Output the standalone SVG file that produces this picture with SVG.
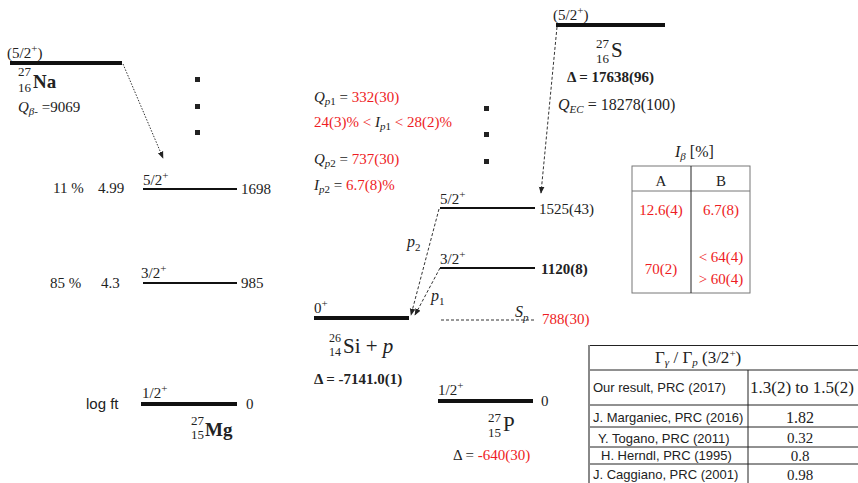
<svg xmlns="http://www.w3.org/2000/svg" width="858" height="483" viewBox="0 0 858 483">
<defs>
<style>
text{font-family:"Liberation Serif","Times New Roman",serif;font-size:15px;fill:#222}
.red{fill:#ee1c24}
.b{font-weight:bold}
.i{font-style:italic}
.s{font-size:11px}
.sans{font-family:"Liberation Sans",Arial,sans-serif;font-size:13px}
.val{font-size:16px}
.lvl{stroke:#111;stroke-width:2}
.thick{stroke:#111;stroke-width:4}
.dash{stroke:#333;stroke-width:1;stroke-dasharray:3,2;fill:none}
.dot{stroke:#333;stroke-width:1;stroke-dasharray:1.5,1.5;fill:none}
.grid{stroke:#222;stroke-width:1;fill:none}
</style>
<marker id="ah" viewBox="0 0 10 10" refX="9" refY="5" markerWidth="7" markerHeight="7" orient="auto" markerUnits="userSpaceOnUse">
<path d="M0,1 L10,5 L0,9 z" fill="#222"/>
</marker>
</defs>
<rect width="858" height="483" fill="#fff"/>

<g id="connectors">
<path class="dot" d="M123,64 L163,158" marker-end="url(#ah)"/>
<path class="dash" d="M557,27 L541,193" marker-end="url(#ah)"/>
<path class="dash" d="M439,209 L411,315" marker-end="url(#ah)"/>
<path class="dash" d="M440,268 L415,315" marker-end="url(#ah)"/>
</g>

<g id="na27">
<line class="thick" x1="10" y1="63" x2="122" y2="63"/>
<text x="7" y="58">(5/2<tspan class="s" dy="-6">+</tspan><tspan dy="6">)</tspan></text>
<text x="18" y="76" style="font-size:13px">27</text>
<text x="18" y="92" style="font-size:13px">16</text>
<text x="33" y="88" class="b" style="font-size:19px">Na</text>
<text x="18" y="112"><tspan class="i">Q</tspan><tspan class="i s" dy="3">β-</tspan><tspan dy="-3"> =9069</tspan></text>
</g>

<g id="dots-left">
<rect x="195" y="77" width="5" height="5" fill="#222"/>
<rect x="195" y="104" width="5" height="5" fill="#222"/>
<rect x="195" y="130" width="5" height="5" fill="#222"/>
</g>

<g id="mg27-1698">
<line class="lvl" x1="143" y1="189" x2="237" y2="189"/>
<text x="143" y="185">5/2<tspan class="s" dy="-6">+</tspan></text>
<text x="241" y="194">1698</text>
<text x="53" y="193">11 %</text>
<text x="98" y="193">4.99</text>
</g>

<g id="mg27-985">
<line class="lvl" x1="143" y1="283" x2="237" y2="283"/>
<text x="141" y="278">3/2<tspan class="s" dy="-6">+</tspan></text>
<text x="241" y="288">985</text>
<text x="50" y="288">85 %</text>
<text x="101" y="288">4.3</text>
</g>

<g id="mg27-0">
<line class="thick" x1="141" y1="404" x2="237" y2="404"/>
<text x="142" y="398">1/2<tspan class="s" dy="-6">+</tspan></text>
<text x="246" y="409">0</text>
<text x="86" y="409" class="sans" style="font-size:15px">log ft</text>
<text x="191" y="425" style="font-size:13px">27</text>
<text x="191" y="439" style="font-size:13px">15</text>
<text x="205" y="436" class="b" style="font-size:19px">Mg</text>
</g>

<g id="proton-info">
<text x="314" y="102"><tspan class="i">Q</tspan><tspan class="i s" dy="3">p</tspan><tspan class="s">1</tspan><tspan dy="-3"> = </tspan><tspan class="red">332(30)</tspan></text>
<text x="314" y="127"><tspan class="red">24(3)% &lt; </tspan><tspan class="i">I</tspan><tspan class="i s" dy="3">p</tspan><tspan class="s">1</tspan><tspan dy="-3" class="red"> &lt; 28(2)%</tspan></text>
<text x="314" y="164"><tspan class="i">Q</tspan><tspan class="i s" dy="3">p</tspan><tspan class="s">2</tspan><tspan dy="-3"> = </tspan><tspan class="red">737(30)</tspan></text>
<text x="314" y="190"><tspan class="i">I</tspan><tspan class="i s" dy="3">p</tspan><tspan class="s">2</tspan><tspan dy="-3"> = </tspan><tspan class="red">6.7(8)%</tspan></text>
</g>

<g id="dots-mid">
<rect x="484" y="106" width="5" height="5" fill="#222"/>
<rect x="484" y="132" width="5" height="5" fill="#222"/>
<rect x="484" y="159" width="5" height="5" fill="#222"/>
</g>

<g id="si26p">
<line class="thick" x1="314" y1="318" x2="409" y2="318"/>
<text x="314" y="313">0<tspan class="s" dy="-6">+</tspan></text>
<text x="329" y="342" style="font-size:12px">26</text>
<text x="329" y="356" style="font-size:12px">14</text>
<text x="343" y="353" style="font-size:21px">Si + <tspan class="i">p</tspan></text>
<text x="314" y="384" class="b">Δ = -7141.0(1)</text>
</g>

<g id="p27-1525">
<line class="lvl" x1="440" y1="208" x2="535" y2="208"/>
<text x="440" y="204">5/2<tspan class="s" dy="-6">+</tspan></text>
<text x="539" y="214">1525(43)</text>
</g>

<g id="p27-1120">
<line class="lvl" x1="440" y1="268" x2="535" y2="268"/>
<text x="440" y="264">3/2<tspan class="s" dy="-6">+</tspan></text>
<text x="541" y="274" class="b">1120(8)</text>
</g>

<g id="sp">
<line class="dash" x1="441" y1="320" x2="535" y2="320"/>
<text x="515" y="317" class="i" style="font-size:16px">S<tspan class="s" dy="4">p</tspan></text>
<text x="542" y="324" class="red">788(30)</text>
</g>

<g id="p-labels">
<text x="407" y="247" class="i" style="font-size:16px">p<tspan class="s" dy="4" style="font-style:normal">2</tspan></text>
<text x="431" y="301" class="i" style="font-size:16px">p<tspan class="s" dy="4" style="font-style:normal">1</tspan></text>
</g>

<g id="p27-0">
<line class="thick" x1="438" y1="401" x2="533" y2="401"/>
<text x="438" y="395">1/2<tspan class="s" dy="-6">+</tspan></text>
<text x="541" y="406">0</text>
<text x="488" y="422" style="font-size:13px">27</text>
<text x="488" y="437" style="font-size:13px">15</text>
<text x="503" y="431" style="font-size:21px">P</text>
<text x="453" y="460">Δ = <tspan class="red">-640(30)</tspan></text>
</g>

<g id="s27">
<line class="thick" x1="556" y1="25" x2="665" y2="25"/>
<text x="553" y="20">(5/2<tspan class="s" dy="-6">+</tspan><tspan dy="6">)</tspan></text>
<text x="596" y="48" style="font-size:13px">27</text>
<text x="596" y="63" style="font-size:13px">16</text>
<text x="611" y="57" style="font-size:21px">S</text>
<text x="567" y="82" class="b">Δ = 17638(96)</text>
<text x="558" y="110" style="font-size:16px"><tspan class="i">Q</tspan><tspan class="i s" dy="3">EC</tspan><tspan dy="-3"> = 18278(100)</tspan></text>
</g>

<g id="ibeta-table">
<text x="675" y="157" style="font-size:16px"><tspan class="i">I</tspan><tspan class="i s" dy="3">β</tspan><tspan dy="-3">  [%]</tspan></text>
<rect class="grid" x="632" y="166" width="118" height="127" style="stroke:#777"/>
<line class="grid" x1="632" y1="191" x2="750" y2="191" style="stroke:#777"/>
<line class="grid" x1="691" y1="166" x2="691" y2="293"/>
<text x="661" y="186" text-anchor="middle">A</text>
<text x="721" y="186" text-anchor="middle">B</text>
<text x="661" y="215" text-anchor="middle" class="red">12.6(4)</text>
<text x="721" y="215" text-anchor="middle" class="red">6.7(8)</text>
<text x="661" y="274" text-anchor="middle" class="red">70(2)</text>
<text x="721" y="262" text-anchor="middle" class="red">&lt; 64(4)</text>
<text x="721" y="284" text-anchor="middle" class="red">&gt; 60(4)</text>
</g>

<g id="gamma-table">
<rect x="588" y="345" width="2" height="138" fill="#888"/>
<line class="grid" x1="590" y1="345.5" x2="858" y2="345.5"/>
<line class="grid" x1="590" y1="370" x2="858" y2="370"/>
<line class="grid" x1="590" y1="405" x2="858" y2="405"/>
<line class="grid" x1="590" y1="427" x2="858" y2="427"/>
<line class="grid" x1="590" y1="447" x2="858" y2="447"/>
<line class="grid" x1="590" y1="464" x2="858" y2="464"/>
<line class="grid" x1="748" y1="370" x2="748" y2="483"/>
<text x="655" y="363" style="font-size:17px">Γ<tspan class="i s" dy="3">γ</tspan><tspan dy="-3"> / Γ</tspan><tspan class="i s" dy="3">p</tspan><tspan dy="-3">  (3/2</tspan><tspan class="s" dy="-6">+</tspan><tspan dy="6">)</tspan></text>
<text x="593" y="392" class="sans">Our result, PRC (2017)</text>
<text x="750" y="393" style="font-size:17px">1.3(2) to 1.5(2)</text>
<text x="593" y="422" class="sans">J. Marganiec, PRC (2016)</text>
<text x="800" y="423" text-anchor="middle" class="val">1.82</text>
<text x="598" y="443" class="sans">Y. Togano, PRC (2011)</text>
<text x="800" y="443" text-anchor="middle" style="font-size:15px">0.32</text>
<text x="601" y="460" class="sans">H. Herndl, PRC (1995)</text>
<text x="800" y="461" text-anchor="middle" style="font-size:15px">0.8</text>
<text x="593" y="479" class="sans">J. Caggiano, PRC (2001)</text>
<text x="800" y="480" text-anchor="middle" style="font-size:15px">0.98</text>
</g>
</svg>
